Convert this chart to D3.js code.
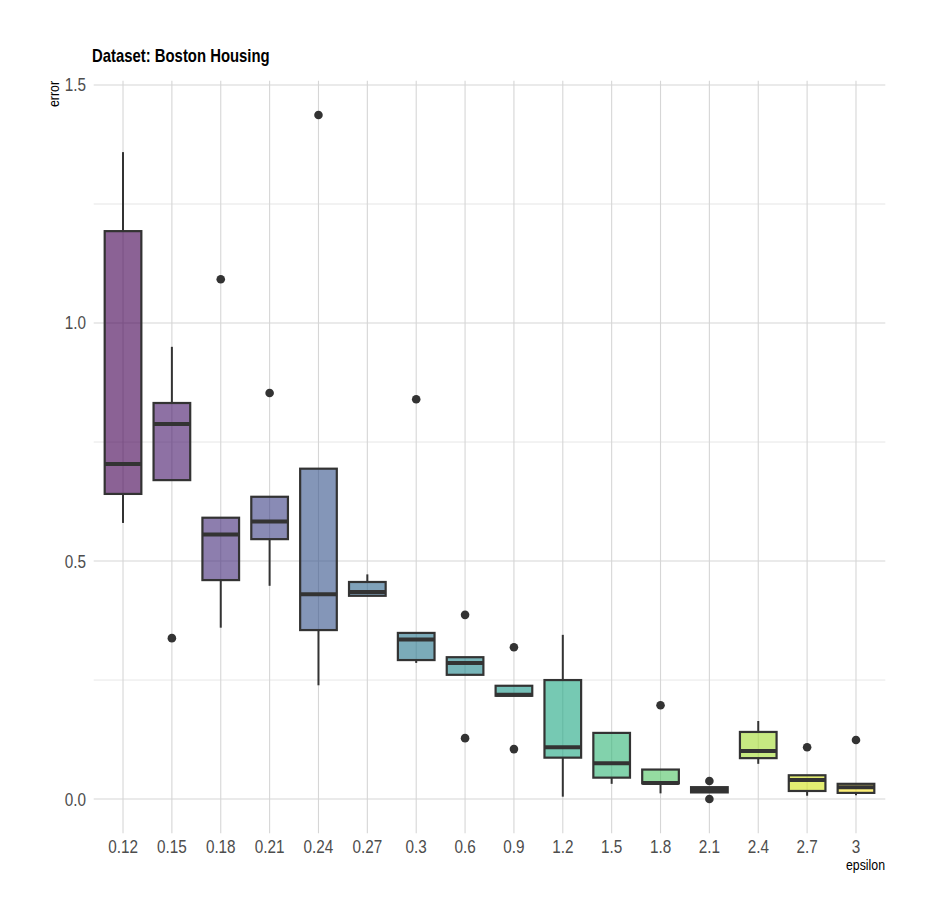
<!DOCTYPE html>
<html><head><meta charset="utf-8">
<script src="https://cdn.jsdelivr.net/npm/d3@7"></script>
<style>
body{margin:0;background:#fff;}
text{font-family:"Liberation Sans",Arial,Helvetica,sans-serif;}
</style></head>
<body><svg id="c" width="934" height="923"></svg>
<script>
const categories = ["0.12","0.15","0.18","0.21","0.24","0.27","0.3","0.6","0.9","1.2","1.5","1.8","2.1","2.4","2.7","3"];
const whiskerLow  = [0.580,0.670,0.360,0.448,0.239,0.427,0.286,0.261,0.217,0.005,0.032,0.012,0.014,0.074,0.007,0.008];
const q1          = [0.641,0.670,0.460,0.546,0.355,0.427,0.292,0.261,0.217,0.087,0.045,0.033,0.014,0.086,0.017,0.013];
const median      = [0.704,0.788,0.556,0.583,0.430,0.435,0.335,0.286,0.219,0.109,0.075,0.034,0.019,0.101,0.040,0.025];
const q3          = [1.193,0.832,0.591,0.635,0.694,0.456,0.349,0.298,0.238,0.250,0.139,0.062,0.025,0.141,0.050,0.032];
const whiskerHigh = [1.359,0.950,0.591,0.635,0.694,0.472,0.349,0.298,0.238,0.345,0.139,0.062,0.025,0.164,0.050,0.032];
const outliers    = [[],[0.338],[1.092],[0.853],[1.437],[],[0.840],[0.387,0.128],[0.319,0.105],[],[],[0.197],[0.038,0.000],[],[0.109],[0.124]];
const yTicks = [0,0.5,1.0,1.5];
const yMinor = [0.25,0.75,1.25];
const title = "Dataset: Boston Housing";

const SX = 0.85; // narrow glyph rendering
const svg = d3.select("#c");
const x = d3.scalePoint().domain(categories).range([93.7,885.3]).padding(0.6);
const y = d3.scaleLinear().domain([-0.0719,1.509]).range([833.3,80.7]);
const step = x.step();
const bw = step*0.75;
const color = d3.scaleSequential(d3.interpolateViridis).domain([0,categories.length-1]);

const g = svg.append("g");
g.selectAll(".minor").data(yMinor).join("line")
  .attr("x1",93.7).attr("x2",885.3).attr("y1",d=>y(d)).attr("y2",d=>y(d))
  .attr("stroke","#e0e0e0").attr("stroke-width",0.8);
g.selectAll(".major").data(yTicks).join("line")
  .attr("x1",93.7).attr("x2",885.3).attr("y1",d=>y(d)).attr("y2",d=>y(d))
  .attr("stroke","#d6d6d6").attr("stroke-width",1.1);
g.selectAll(".vg").data(categories).join("line")
  .attr("x1",d=>x(d)).attr("x2",d=>x(d)).attr("y1",80.7).attr("y2",833.3)
  .attr("stroke","#d6d6d6").attr("stroke-width",1.1);

categories.forEach((c,i)=>{
  const cx = x(c);
  const bg = g.append("g");
  bg.append("line").attr("x1",cx).attr("x2",cx).attr("y1",y(q3[i])).attr("y2",y(whiskerHigh[i]))
    .attr("stroke","#333333").attr("stroke-width",2);
  bg.append("line").attr("x1",cx).attr("x2",cx).attr("y1",y(q1[i])).attr("y2",y(whiskerLow[i]))
    .attr("stroke","#333333").attr("stroke-width",2);
  bg.append("rect").attr("x",cx-bw/2).attr("width",bw)
    .attr("y",y(q3[i])).attr("height",Math.max(0,y(q1[i])-y(q3[i])))
    .attr("fill",color(i)).attr("fill-opacity",0.62)
    .attr("stroke","#333333").attr("stroke-width",2.2);
  bg.append("line").attr("x1",cx-bw/2).attr("x2",cx+bw/2).attr("y1",y(median[i])).attr("y2",y(median[i]))
    .attr("stroke","#333333").attr("stroke-width",4);
  bg.selectAll("circle").data(outliers[i]).join("circle")
    .attr("cx",cx).attr("cy",d=>y(d)).attr("r",4.3).attr("fill","#333333");
});

function txt(px,py,s,opts){
  const t = svg.append("text")
    .attr("transform",`translate(${px},${py})${opts.rot?" rotate(-90)":""} scale(${SX},1)`)
    .attr("text-anchor",opts.anchor||"start")
    .attr("font-size",opts.size).attr("fill",opts.fill||"#000").text(s);
  if(opts.bold) t.attr("font-weight","bold");
  if(opts.dy) t.attr("dy",opts.dy);
  return t;
}
yTicks.forEach(d=>txt(86,y(d),d3.format(".1f")(d),{anchor:"end",size:18,fill:"#4d4d4d",dy:"0.36em"}));
categories.forEach(d=>txt(x(d),853,d,{anchor:"middle",size:18,fill:"#4d4d4d"}));
txt(885,870,"epsilon",{anchor:"end",size:14.5});
txt(59,81,"error",{anchor:"end",size:14.5,rot:true});
txt(92,62,title,{size:17.5,bold:true});
</script></body></html>
